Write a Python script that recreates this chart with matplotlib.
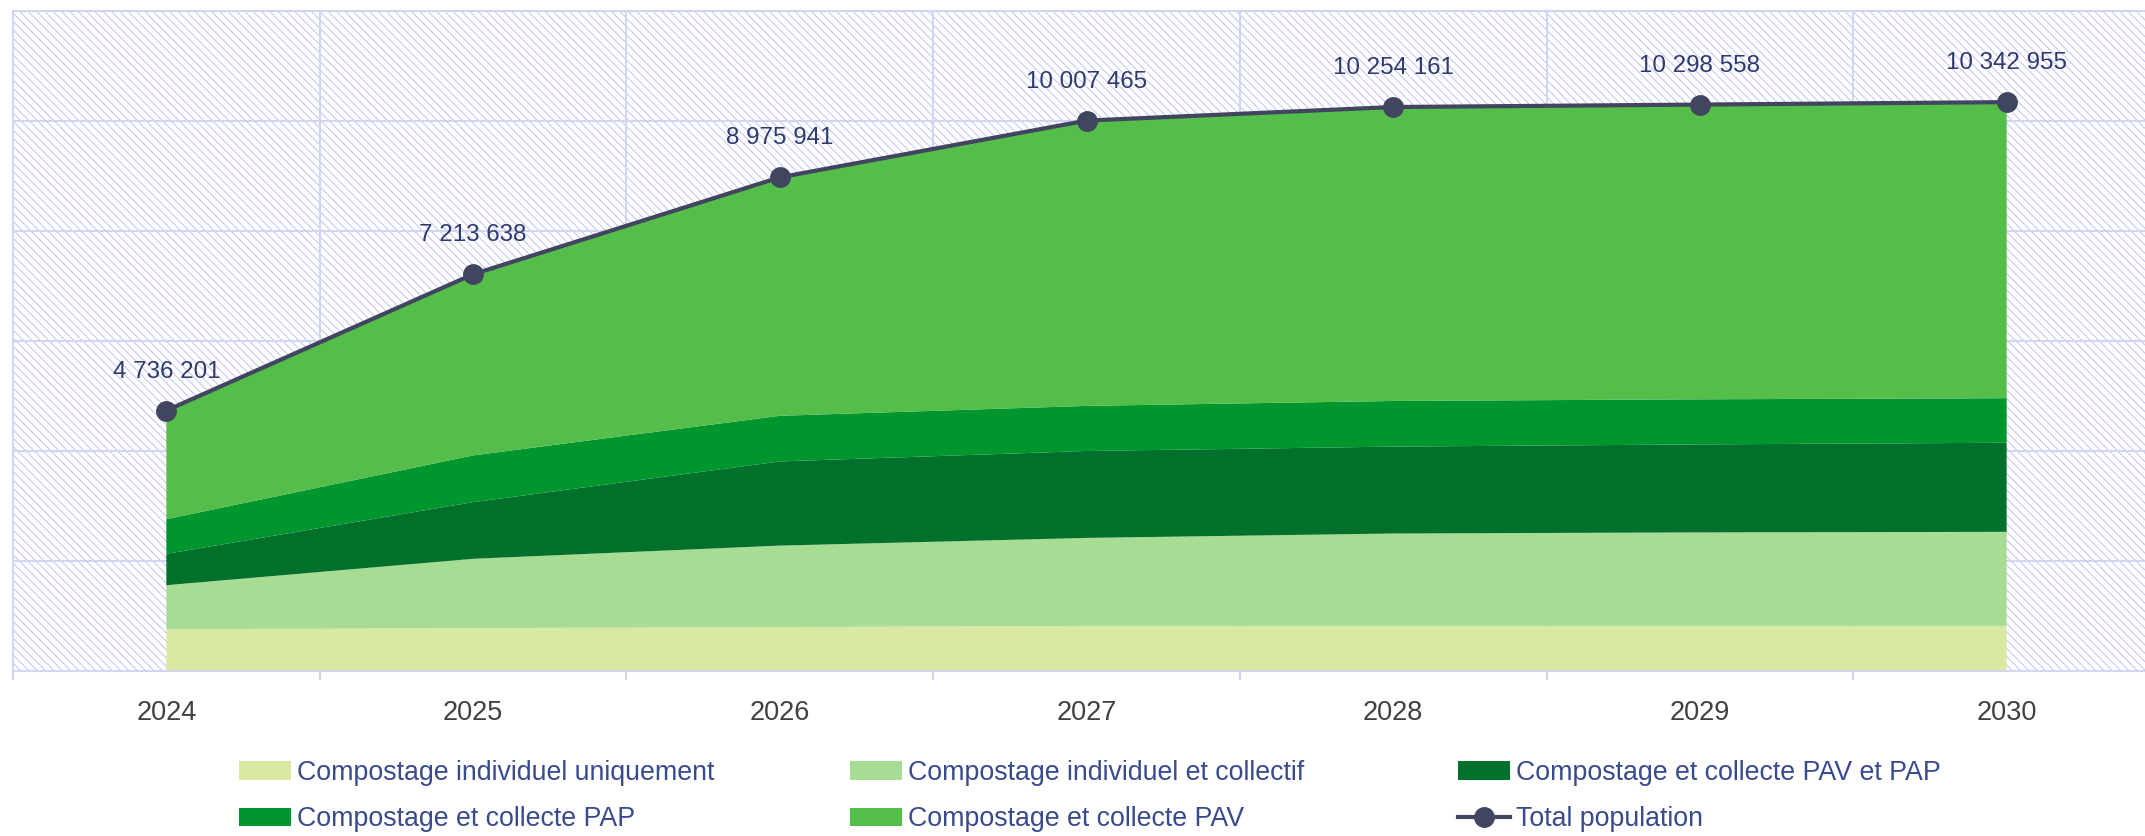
import matplotlib.pyplot as plt
from matplotlib.patches import Rectangle, Patch
from matplotlib.lines import Line2D

# Data (population per collection mode)
years = ['2024', '2025', '2026', '2027', '2028', '2029', '2030']
indiv_uniq = [760000, 780000, 800000, 820000, 820000, 820000, 820000]
indiv_coll = [800000, 1260000, 1480000, 1600000, 1680000, 1700000, 1710000]
pav_pap = [570000, 1030000, 1530000, 1580000, 1580000, 1600000, 1620000]
pap = [630000, 850000, 830000, 820000, 830000, 820000, 810000]
pav = [1976201, 3293638, 4335941, 5187465, 5344161, 5358558, 5382955]
total = [4736201, 7213638, 8975941, 10007465, 10254161, 10298558, 10342955]

layer_names = ['Compostage individuel uniquement', 'Compostage individuel et collectif',
               'Compostage et collecte PAV et PAP', 'Compostage et collecte PAP',
               'Compostage et collecte PAV']
layer_colors = ['#D9E8A3', '#A7DC94', '#00702B', '#00962E', '#55BD4A']
line_color = '#41455F'
grid_color = '#D2D5EF'
hatch_color = '#C6CBF0'
label_color = '#2F3A6E'
legend_color = '#3A4A8E'

plt.rcParams['hatch.linewidth'] = 0.8
plt.rcParams['font.family'] = ['Liberation Sans', 'DejaVu Sans']

W, H = 2145, 836
fig = plt.figure(figsize=(W / 100, H / 100), dpi=100)
ax = fig.add_axes([13 / W, (H - 671) / H, 2147 / W, 660 / H])

# hatched background
ax.add_patch(Rectangle((0, 0), 1, 1, transform=ax.transAxes, facecolor='white',
                       edgecolor=hatch_color, hatch='\\\\\\\\', lw=0, zorder=0))

x = list(range(len(years)))
ax.stackplot(x, indiv_uniq, indiv_coll, pav_pap, pap, pav,
             colors=layer_colors, linewidth=0, zorder=1)
ax.plot(x, total, color=line_color, lw=3, marker='o', markersize=14, zorder=3)

for xi, v in zip(x, total):
    ax.annotate(f"{v:,}".replace(',', ' '), (xi, v), xytext=(0, 28),
                textcoords='offset points', ha='center', va='center',
                fontsize=17.4, color=label_color, zorder=4)

ax.set_xlim(-0.5, 6.5)
ax.set_ylim(0, 12000000)
ax.set_xticks(x)
ax.set_xticklabels(years)
ax.set_xticks([i - 0.5 for i in range(len(years) + 1)], minor=True)
ax.set_yticks(range(0, 12000001, 2000000))
ax.set_yticklabels([])
ax.tick_params(axis='x', which='major', length=0, pad=21, labelsize=19.5, labelcolor='#404040')
ax.tick_params(axis='x', which='minor', length=6.5, width=1.5, color=grid_color, direction='out')
ax.tick_params(axis='y', length=0)
ax.set_axisbelow(True)
ax.grid(True, axis='x', which='minor', color=grid_color, lw=1.5)
ax.grid(True, axis='y', which='major', color=grid_color, lw=1.5)
for s in ax.spines.values():
    s.set_color(grid_color)
    s.set_linewidth(1.5)

# legend, three columns placed by hand
handles = [Patch(facecolor=c, edgecolor='none') for c in layer_colors]
handles.append(Line2D([], [], color=line_color, lw=3, marker='o', markersize=14))
names = layer_names + ['Total population']
col_x = [239, 850, 1458]
col_items = [(0, 3), (1, 4), (2, 5)]
for cx, (a, b) in zip(col_x, col_items):
    leg = fig.legend([handles[a], handles[b]], [names[a], names[b]],
                     loc='center left', bbox_to_anchor=(cx / W, (H - 796) / H),
                     frameon=False, borderpad=0, borderaxespad=0,
                     handlelength=1.94, handletextpad=0.22, labelspacing=0.78,
                     prop={'size': 19.3})
    for t in leg.get_texts():
        t.set_color(legend_color)

fig.savefig('out.png', dpi=100)
